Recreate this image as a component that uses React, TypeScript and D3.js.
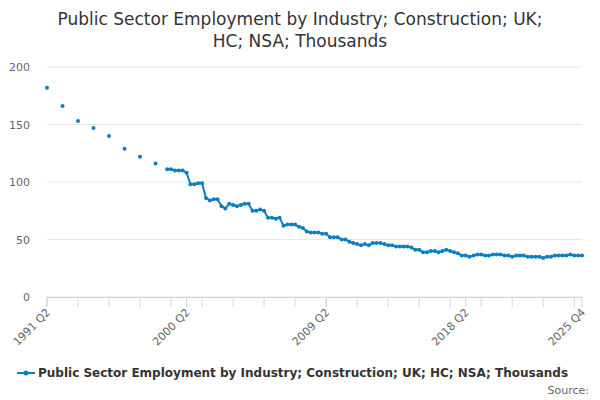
import React from 'react';
import * as d3 from 'd3';

const title = ['Public Sector Employment by Industry; Construction; UK;', 'HC; NSA; Thousands'];
const seriesName = 'Public Sector Employment by Industry; Construction; UK; HC; NSA; Thousands';
// annual readings 1991 Q2 .. 1998 Q2
const annualValues = [182, 166, 153, 147, 140, 129, 122, 116];
// quarterly readings from 1999 Q1
const quarterlyValues = [
  111, 111, 110, 110, 110, 108, 98, 98, 99, 99, 86, 84, 85, 85, 79, 77,
  81, 80, 79, 80, 81, 81, 75, 75, 76, 75, 69, 69, 68, 69, 62, 63,
  63, 63, 61, 60, 57, 56, 56, 56, 55, 55, 52, 52, 52, 50, 50, 48,
  47, 46, 45, 46, 45, 47, 47, 47, 46, 45, 45, 44, 44, 44, 44, 43,
  41, 41, 39, 39, 40, 40, 39, 40, 41, 40, 39, 38, 36, 36, 35, 36,
  37, 37, 36, 36, 37, 37, 37, 36, 36, 35, 36, 36, 36, 35, 35, 35,
  35, 34, 35, 35, 36, 36, 36, 36, 37, 36, 36, 36,
];
const tickLabels = ['1991 Q2', '2000 Q2', '2009 Q2', '2018 Q2', '2025 Q4'];
const yTicks = [0, 50, 100, 150, 200];
const color = '#0a7fc0';

// quarter index: years*4 + (q-1)
const qi = (label: string) => {
  const [y, q] = label.split(' Q');
  return +y * 4 + (+q - 1);
};

export default function App() {
  const start = qi('1991 Q2');
  const end = qi('2025 Q4');
  const x = d3.scaleLinear().domain([start, end]).range([47, 582]);
  const y = d3.scaleLinear().domain([0, 200]).range([297, 67]);
  const annual = annualValues.map((v, i) => ({ t: start + i * 4, v }));
  const q0 = qi('1999 Q1');
  const quarterly = quarterlyValues.map((v, i) => ({ t: q0 + i, v }));
  const line = d3.line<{ t: number; v: number }>().x(d => x(d.t)).y(d => y(d.v));
  const minor = d3.range(start, end + 1, 8);
  const font = 'DejaVu Sans, Verdana, sans-serif';
  return (
    <svg width={600} height={400} style={{ position: 'absolute', left: 0, top: 0, fontFamily: font }}>
      <rect width={600} height={400} fill="#fff" />
      {title.map((t, i) => (
        <text key={i} x={300} y={25 + i * 22} textAnchor="middle" fontSize={17} fill="#333">{t}</text>
      ))}
      {yTicks.map(v => (
        <g key={v}>
          <line x1={47} x2={582} y1={y(v)} y2={y(v)} stroke="#e6e6e6" />
          <text x={30} y={y(v) + 4} textAnchor="end" fontSize={11} fill="#666">{v}</text>
        </g>
      ))}
      <line x1={47} x2={582} y1={297.5} y2={297.5} stroke="#ccd6eb" />
      {minor.map(t => (
        <line key={t} x1={x(t)} x2={x(t)} y1={297} y2={307} stroke="#ccd6eb" />
      ))}
      {tickLabels.map(l => (
        <g key={l}>
          <line x1={x(qi(l))} x2={x(qi(l))} y1={297} y2={307} stroke="#ccd6eb" />
          <text transform={`translate(${x(qi(l)) + 4},${313}) rotate(-45)`} textAnchor="end" fontSize={11} fill="#666">{l}</text>
        </g>
      ))}
      <path d={line(quarterly) || ''} fill="none" stroke={color} strokeWidth={2} />
      {[...annual, ...quarterly].map((d, i) => (
        <circle key={i} cx={x(d.t)} cy={y(d.v)} r={2} fill={color} />
      ))}
      <line x1={17} x2={35} y1={373} y2={373} stroke={color} strokeWidth={2} />
      <circle cx={26} cy={373} r={2.5} fill={color} />
      <text x={38} y={377} fontSize={12} fontWeight="bold" fill="#333">{seriesName}</text>
      <text x={589} y={394} textAnchor="end" fontSize={11} fill="#666">Source:</text>
    </svg>
  );
}
